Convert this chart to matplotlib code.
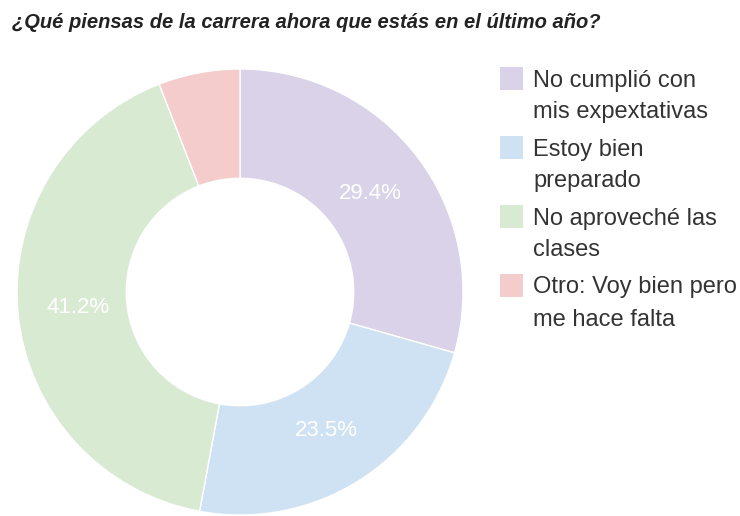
import matplotlib
matplotlib.use("Agg")
import matplotlib.pyplot as plt
from matplotlib.patches import Rectangle

plt.rcParams['font.family'] = ['Liberation Sans', 'DejaVu Sans']

# data
labels = ["No cumplió con\nmis expextativas", "Estoy bien\npreparado",
          "No aproveché las\nclases", "Otro: Voy bien pero\nme hace falta"]
values = [29.4, 23.5, 41.2, 5.9]
colors = ["#d9d2e9", "#cfe2f3", "#d9ead3", "#f4cccc"]
title = "¿Qué piensas de la carrera ahora que estás en el último año?"

W, H = 740, 516
fig = plt.figure(figsize=(W / 100, H / 100), dpi=100)

# donut, placed in pixel units
cx, cy, r = 240, 292, 223
ax = fig.add_axes([(cx - r) / W, (H - cy - r) / H, 2 * r / W, 2 * r / H])
wedges, texts, autotexts = ax.pie(
    values, colors=colors, startangle=90, counterclock=False,
    autopct=lambda p: "%.1f%%" % p if p > 10 else "", pctdistance=0.73,
    radius=1, wedgeprops=dict(width=0.49, edgecolor="white", linewidth=1),
    textprops=dict(color="white", fontsize=16))
ax.set_xlim(-1, 1)
ax.set_ylim(-1, 1)
ax.set_aspect("equal")
ax.axis("off")

fig.text(12 / W, 1 - 22 / H, title, fontsize=14.5, fontweight="bold",
         fontstyle="italic", color="#222222", va="center", ha="left")

# legend, drawn by hand so the swatch sits on the first line
x_box, box = 500, 23
x_txt = 533
y0, step, line_h = 78, 69, 32
for i, (lab, col) in enumerate(zip(labels, colors)):
    yc = y0 + i * step
    fig.patches.append(Rectangle(((x_box) / W, 1 - (yc + box / 2) / H),
                                 box / W, box / H, transform=fig.transFigure,
                                 facecolor=col, edgecolor="none"))
    for k, line in enumerate(lab.split("\n")):
        fig.text(x_txt / W, 1 - (yc + k * line_h) / H, line, fontsize=17,
                 color="#333333", va="center_baseline", ha="left")

fig.savefig("out.png", dpi=100, facecolor="white")
